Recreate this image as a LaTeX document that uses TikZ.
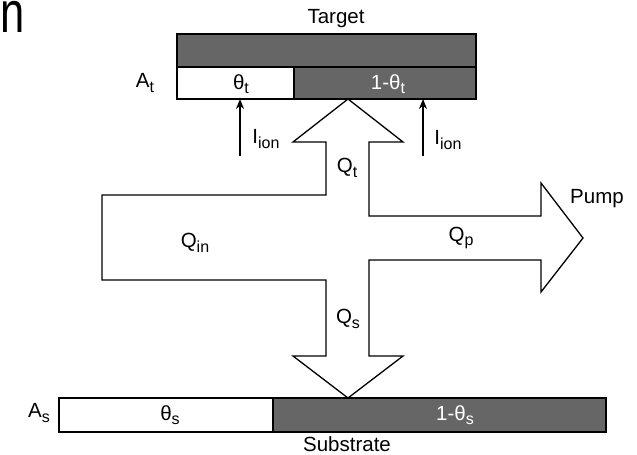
\documentclass[tikz,border=0pt]{standalone}
\usepackage{fontspec}
\setmainfont{Liberation Sans}
\usetikzlibrary{arrows.meta}
\definecolor{bargray}{HTML}{666666}
% lowered, smaller subscript in the text font
\newcommand\lowsub[1]{\raisebox{-0.42ex}{\fontsize{16pt}{16pt}\selectfont #1}}

\begin{document}
\begin{tikzpicture}[x=1pt,y=-1pt,
  bar/.style={draw=black, line width=2.4pt, rectangle, inner sep=0pt, outer sep=0pt},
  lbl/.style={font=\fontsize{20.5pt}{20.5pt}\selectfont, inner sep=0pt},
  flow/.style={draw=black, line width=1.3pt, fill=white, line join=miter},
  ionarrow/.style={line width=2pt, -{Stealth[length=10pt,width=8pt]}}]
\useasboundingbox (0,0) rectangle (637,455);

% fragment of a large letter at the top left
\node[font=\fontsize{58pt}{58pt}\selectfont, inner sep=0pt, xscale=0.75, transform shape,
      anchor=base west] (letter) at (0,32) {n};

% target: backing plate and its two surface fractions
\node[bar, fill=bargray, minimum width=299pt, minimum height=33pt] (tgtback) at (326.5,50.5) {};
\node[bar, fill=bargray, minimum width=182pt, minimum height=32pt] (tgtdark) at (385,83) {};
\node[bar, fill=white, minimum width=117pt, minimum height=32pt] (tgtlight) at (235.5,83) {};

% substrate: its two surface fractions
\node[bar, fill=bargray, minimum width=333pt, minimum height=34pt] (subdark) at (439.5,415) {};
\node[bar, fill=white, minimum width=214pt, minimum height=34pt] (sublight) at (166,415) {};

% gas flows: inflow split to target, pump and substrate
\draw[flow] (348,99) -- (403,142) -- (369,142) -- (369,216) -- (541,216) -- (541,183)
  -- (583,238) -- (541,292) -- (541,260) -- (369,260) -- (369,356) -- (403,356)
  -- (348,398) -- (293,356) -- (326,356) -- (326,280) -- (102,280) -- (102,195)
  -- (326,195) -- (326,142) -- (293,142) -- cycle;

% ion currents onto the target
\coordinate (ionL) at (240,156);
\coordinate (ionR) at (423,156);
\draw[ionarrow] (ionL) -- (ionL |- tgtlight.south);
\draw[ionarrow] (ionR) -- (ionR |- tgtdark.south);

% labels
\node[lbl] (tgtname) at (336,19) {Target};
\node[lbl] (at) at (145,83) {A\lowsub{t}};
\node[lbl] (thetat) at (241,84) {θ\lowsub{t}};
\node[lbl, text=white] (onethetat) at (388,84) {1-θ\lowsub{t}};
\node[lbl] (ionlL) at (266,139) {I\lowsub{ion}};
\node[lbl] (ionlR) at (448,140) {I\lowsub{ion}};
\node[lbl] (qt) at (347,168) {Q\lowsub{t}};
\node[lbl] (qin) at (195,243) {Q\lowsub{in}};
\node[lbl] (qp) at (461,238) {Q\lowsub{p}};
\node[lbl] (pump) at (597,199) {Pump};
\node[lbl] (qs) at (348,319) {Q\lowsub{s}};
\node[lbl] (as) at (39,413) {A\lowsub{s}};
\node[lbl] (thetas) at (170,415) {θ\lowsub{s}};
\node[lbl, text=white] (onethetas) at (455,415) {1-θ\lowsub{s}};
\node[lbl] (subname) at (347,444) {Substrate};
\end{tikzpicture}
\end{document}
